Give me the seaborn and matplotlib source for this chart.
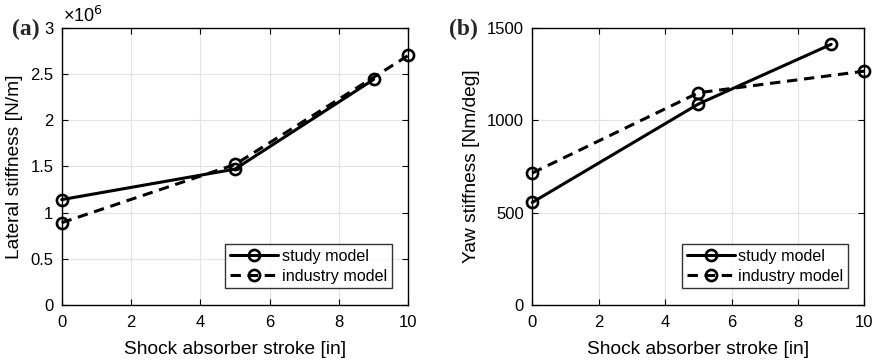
import matplotlib
matplotlib.use("Agg")
import matplotlib.pyplot as plt
import seaborn as sns
import pandas as pd

# Data
lat_study_x = [0, 5, 9]
lat_study_y = [1.14, 1.47, 2.44]  # x 1e6 N/m
lat_ind_x = [0, 5, 10]
lat_ind_y = [0.89, 1.52, 2.70]

yaw_study_x = [0, 5, 9]
yaw_study_y = [555, 1087, 1410]
yaw_ind_x = [0, 5, 10]
yaw_ind_y = [714, 1148, 1265]

series_names = ["study model", "industry model"]
x_ticks = [0, 2, 4, 6, 8, 10]
lat_ticks = [0, 0.5, 1, 1.5, 2, 2.5, 3]
lat_tick_labels = ["0", "0.5", "1", "1.5", "2", "2.5", "3"]
yaw_ticks = [0, 500, 1000, 1500]

sns.set_theme(style="white")
plt.rcParams["font.family"] = ["Liberation Sans", "DejaVu Sans"]

fig = plt.figure(figsize=(8.77, 3.63), dpi=100)
axA = fig.add_axes([0.0703, 0.1598, 0.3953, 0.7639])
axB = fig.add_axes([0.607, 0.1598, 0.3786, 0.7639])

TICK_FS = 12
LABEL_FS = 13.8
LEG_FS = 11.6

def draw(ax, sx, sy, ix, iy):
    d1 = pd.DataFrame({"x": sx, "y": sy})
    d2 = pd.DataFrame({"x": ix, "y": iy})
    sns.lineplot(data=d1, x="x", y="y", ax=ax, color="black", lw=2.2,
                 marker="o", ms=8, mfc="none", mec="black", mew=1.9,
                 label=series_names[0], zorder=3, clip_on=False)
    sns.lineplot(data=d2, x="x", y="y", ax=ax, color="black", lw=2.2,
                 marker="o", ms=8, mfc="none", mec="black", mew=1.9,
                 linestyle=(0, (3.4, 2.2)), label=series_names[1], zorder=3,
                 clip_on=False)
    ax.set_xlim(0, 10)
    ax.set_xticks(x_ticks)
    ax.grid(True, color="#e3e3e3", lw=0.8)
    for s in ax.spines.values():
        s.set_color("black")
        s.set_linewidth(1.0)
    ax.tick_params(direction="in", length=4, width=0.8, top=True, right=True,
                   bottom=True, left=True, labelsize=TICK_FS, colors="black")
    ax.tick_params(axis="x", pad=7)
    ax.tick_params(axis="y", pad=6)
    ax.set_xlabel("Shock absorber stroke [in]", fontsize=LABEL_FS, color="black",
                  labelpad=8)
    leg = ax.legend(loc="lower right", bbox_to_anchor=(0.952, 0.060),
                    borderaxespad=0, fontsize=LEG_FS, frameon=True, fancybox=False,
                    handlelength=3.0, handletextpad=0.2, labelspacing=0.3,
                    borderpad=0.3)
    leg.get_frame().set_edgecolor("black")
    leg.get_frame().set_linewidth(1.0)
    for t in leg.get_texts():
        t.set_color("black")

draw(axA, lat_study_x, lat_study_y, lat_ind_x, lat_ind_y)
axA.set_ylim(0, 3)
axA.set_yticks(lat_ticks)
axA.set_yticklabels(lat_tick_labels)
axA.set_ylabel("Lateral stiffness [N/m]", fontsize=LABEL_FS, color="black", labelpad=5)
axA.text(0.005, 1.005, "×10$^{6}$", transform=axA.transAxes, fontsize=13,
         ha="left", va="bottom", color="black")

draw(axB, yaw_study_x, yaw_study_y, yaw_ind_x, yaw_ind_y)
axB.set_ylim(0, 1500)
axB.set_yticks(yaw_ticks)
axB.set_ylabel("Yaw stiffness [Nm/deg]", fontsize=LABEL_FS, color="black", labelpad=5)

fig.text(40 / 877, 1 - 35 / 363, "(a)", fontsize=17, fontweight="bold",
         family=["Liberation Serif", "DejaVu Serif"], ha="right", va="baseline")
fig.text(478 / 877, 1 - 35 / 363, "(b)", fontsize=17, fontweight="bold",
         family=["Liberation Serif", "DejaVu Serif"], ha="right", va="baseline")

fig.savefig("out.png", dpi=100)
